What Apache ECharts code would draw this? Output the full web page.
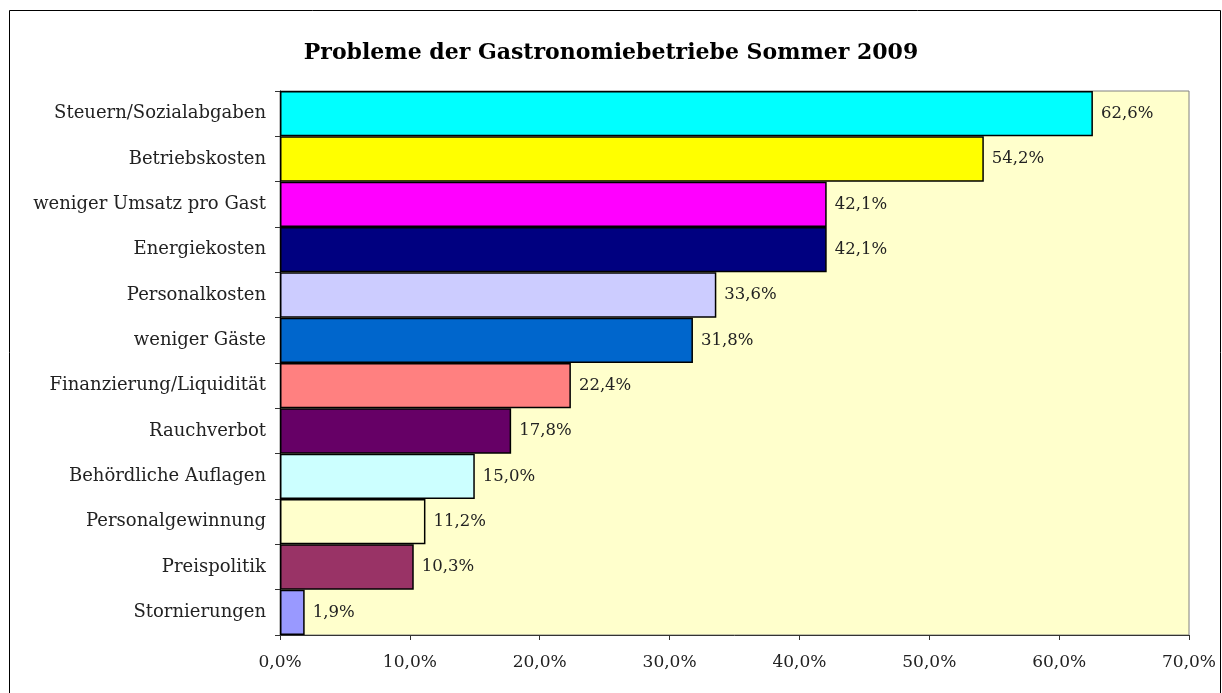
<!DOCTYPE html>
<html><head><meta charset="utf-8">
<script src="https://cdn.jsdelivr.net/npm/echarts@6/dist/echarts.min.js"></script>
<style>html,body{margin:0;padding:0;background:#fff}#c{width:1222px;height:693px}</style>
</head><body><div id="c"></div>
<script>
const categories = ["Steuern/Sozialabgaben","Betriebskosten","weniger Umsatz pro Gast","Energiekosten","Personalkosten","weniger Gäste","Finanzierung/Liquidität","Rauchverbot","Behördliche Auflagen","Personalgewinnung","Preispolitik","Stornierungen"];
const values = [62.6,54.2,42.1,42.1,33.6,31.8,22.4,17.8,15.0,11.2,10.3,1.9];
const colors = ["#00FFFF","#FFFF00","#FF00FF","#000080","#CCCCFF","#0066CC","#FF8080","#660066","#CCFFFF","#FFFFCC","#993366","#9999FF"];
const xTicks = [0,10,20,30,40,50,60,70];
const fmt = v => v.toFixed(1).replace('.', ',') + '%';
const FONT = '"DejaVu Serif", serif';
const chart = echarts.init(document.getElementById('c'), null, {renderer:'canvas'});
chart.setOption({
  animation:false,
  title:{text:'Probleme der Gastronomiebetriebe Sommer 2009',left:'center',top:37,
    textStyle:{fontFamily:FONT,fontWeight:'bold',fontSize:22,color:'#000'}},
  graphic:[{type:'rect',shape:{x:9.5,y:10.5,width:1211,height:720},style:{fill:'none',stroke:'#000',lineWidth:1},z:-1}],
  grid:{left:280,top:91,right:33,bottom:58,show:true,backgroundColor:'#FFFFCC',borderColor:'#808080',borderWidth:1},
  xAxis:{type:'value',min:xTicks[0],max:xTicks[xTicks.length-1],interval:10,
    splitLine:{show:false},
    axisLine:{show:true,lineStyle:{color:'#333',width:1}},
    axisTick:{show:true,length:5,lineStyle:{color:'#333'}},
    axisLabel:{formatter:fmt,fontFamily:FONT,fontSize:17,color:'#222',margin:19}},
  yAxis:{type:'category',data:categories,inverse:true,
    axisLine:{show:true,lineStyle:{color:'#000',width:1}},
    axisTick:{show:true,length:5,alignWithLabel:false,lineStyle:{color:'#333'}},
    axisLabel:{fontFamily:FONT,fontSize:18,color:'#222',margin:14}},
  series:[{type:'bar',barCategoryGap:'0%',
    data:values.map((v,i)=>({value:v,itemStyle:{color:colors[i]}})),
    itemStyle:{borderColor:'#000',borderWidth:1.5},
    label:{show:true,position:'right',distance:8,formatter:p=>fmt(p.value),fontFamily:FONT,fontSize:16.5,color:'#222'}}]
});
</script></body></html>
